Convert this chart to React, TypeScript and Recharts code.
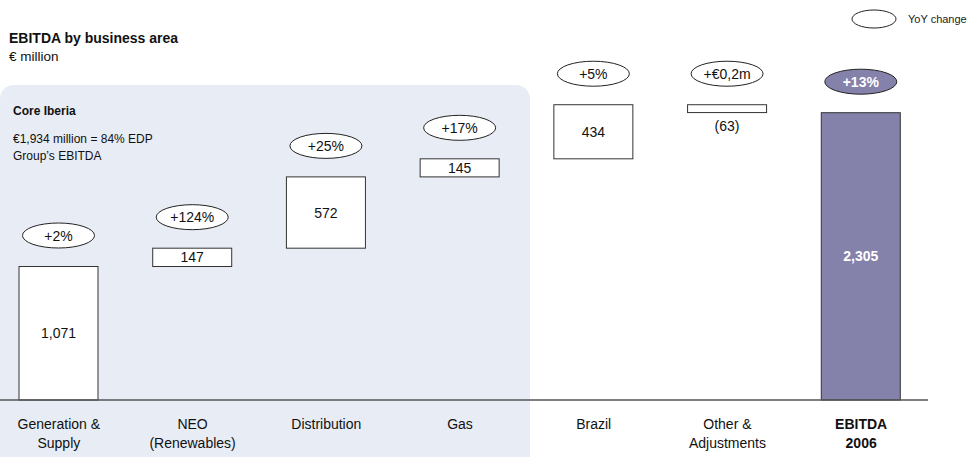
import { BarChart, Bar, XAxis, YAxis, Cell } from 'recharts'

// EBITDA 사업부문별 워터폴 — 투명한 base 막대 위에 delta 막대를 쌓아 계단을 만든다.
const categories = [
  'Generation &\nSupply',
  'NEO\n(Renewables)',
  'Distribution',
  'Gas',
  'Brazil',
  'Other &\nAdjustments',
  'EBITDA\n2006',
]
const values = [1071, 147, 572, 145, 434, -63, 2305]
const yoyChange = ['+2%', '+124%', '+25%', '+17%', '+5%', '+€0,2m', '+13%']

const FONT = '"Liberation Sans", Arial, Helvetica, sans-serif'
const TOTAL_FILL = '#8482AB'
const LAST = values.length - 1

type Row = { name: string; base: number; delta: number; value: number; yoy: string; total: boolean }

// 마지막 항목은 합계라 0부터 세우고, 나머지는 누적 합 위에 띄운다.
function buildRows(): Row[] {
  let running = 0
  return values.map((v, i) => {
    if (i === LAST) {
      return { name: categories[i], base: 0, delta: v, value: v, yoy: yoyChange[i], total: true }
    }
    const base = v >= 0 ? running : running + v
    running += v
    return { name: categories[i], base, delta: Math.abs(v), value: v, yoy: yoyChange[i], total: false }
  })
}

const rows = buildRows()

function fmt(v: number) {
  const s = Math.abs(v).toLocaleString('en-US')
  return v < 0 ? `(${s})` : s
}

function CategoryTick(props: any) {
  const { x, y, payload } = props
  const lines: string[] = String(payload.value).split('\n')
  const bold = payload.value === categories[LAST]
  return (
    <text x={x} y={y} textAnchor="middle" fontSize={14} fontFamily={FONT} fill="#111" fontWeight={bold ? 700 : 400}>
      {lines.map((l, i) => (
        <tspan key={i} x={x} dy={i === 0 ? 27 : 19}>
          {l}
        </tspan>
      ))}
    </text>
  )
}

// 상자 + 위쪽 YoY 타원 + 값 라벨을 한 번에 그린다. 너무 얇은 음수 상자는 값을 아래에 둔다.
function StepShape(props: any) {
  const { x, y, width, height, payload } = props
  const cx = x + width / 2
  const total = payload.total
  const thin = payload.value < 0
  const ey = y - 31
  return (
    <g>
      <rect x={x} y={y} width={width} height={height} fill={total ? TOTAL_FILL : '#fff'} stroke="#333" strokeWidth={1} />
      <ellipse cx={cx} cy={ey} rx={36} ry={12.5} fill={total ? TOTAL_FILL : '#fff'} stroke="#222" strokeWidth={1} />
      <text
        x={cx}
        y={ey}
        dy={5}
        textAnchor="middle"
        fontSize={14}
        fontFamily={FONT}
        fontWeight={total ? 700 : 400}
        fill={total ? '#fff' : '#111'}
      >
        {payload.yoy}
      </text>
      <text
        x={cx}
        y={thin ? y + height + 18 : y + height / 2 + 5}
        textAnchor="middle"
        fontSize={14}
        fontFamily={FONT}
        fontWeight={total ? 700 : 400}
        fill={total ? '#fff' : '#111'}
      >
        {fmt(payload.value)}
      </text>
    </g>
  )
}

export default function App() {
  return (
    <div style={{ position: 'absolute', left: 0, top: 0, width: 973, height: 457, overflow: 'hidden', fontFamily: FONT, background: '#fff' }}>
      {/* Core Iberia 묶음 배경 */}
      <div
        style={{
          position: 'absolute',
          left: 0,
          top: 85,
          width: 530,
          height: 380,
          background: '#E8ECF5',
          borderRadius: '14px 14px 0 0',
        }}
      />
      <div style={{ position: 'absolute', left: 9, top: 30, fontSize: 14, fontWeight: 700, color: '#111' }}>EBITDA by business area</div>
      <div style={{ position: 'absolute', left: 9, top: 49, fontSize: 13.5, color: '#111' }}>€ million</div>
      <div style={{ position: 'absolute', left: 13, top: 104, fontSize: 12, fontWeight: 700, color: '#111' }}>Core Iberia</div>
      <div style={{ position: 'absolute', left: 13, top: 131, fontSize: 12, lineHeight: '17px', color: '#111' }}>
        €1,934 million = 84% EDP
        <br />
        Group’s EBITDA
      </div>
      {/* 범례 */}
      <svg style={{ position: 'absolute', left: 0, top: 0 }} width={973} height={40}>
        <ellipse cx={874} cy={19} rx={22} ry={9} fill="#fff" stroke="#222" strokeWidth={1} />
        <text x={908} y={23} fontSize={11} fontFamily={FONT} fill="#222">
          YoY change
        </text>
      </svg>
      <div style={{ position: 'absolute', left: 0, top: 0 }}>
        <BarChart width={973} height={457} data={rows} barSize={79} margin={{ top: 51, right: 45, bottom: 7, left: -8 }}>
          <XAxis
            dataKey="name"
            height={50}
            interval={0}
            tickLine={false}
            tickSize={0}
            axisLine={{ stroke: '#555', strokeWidth: 1.5 }}
            tick={<CategoryTick />}
          />
          <YAxis hide domain={[0, 2800]} />
          <Bar dataKey="base" stackId="w" fill="none" isAnimationActive={false} />
          <Bar dataKey="delta" stackId="w" shape={<StepShape />} isAnimationActive={false}>
            {rows.map((r, i) => (
              <Cell key={i} fill={r.total ? TOTAL_FILL : '#fff'} />
            ))}
          </Bar>
        </BarChart>
      </div>
    </div>
  )
}
